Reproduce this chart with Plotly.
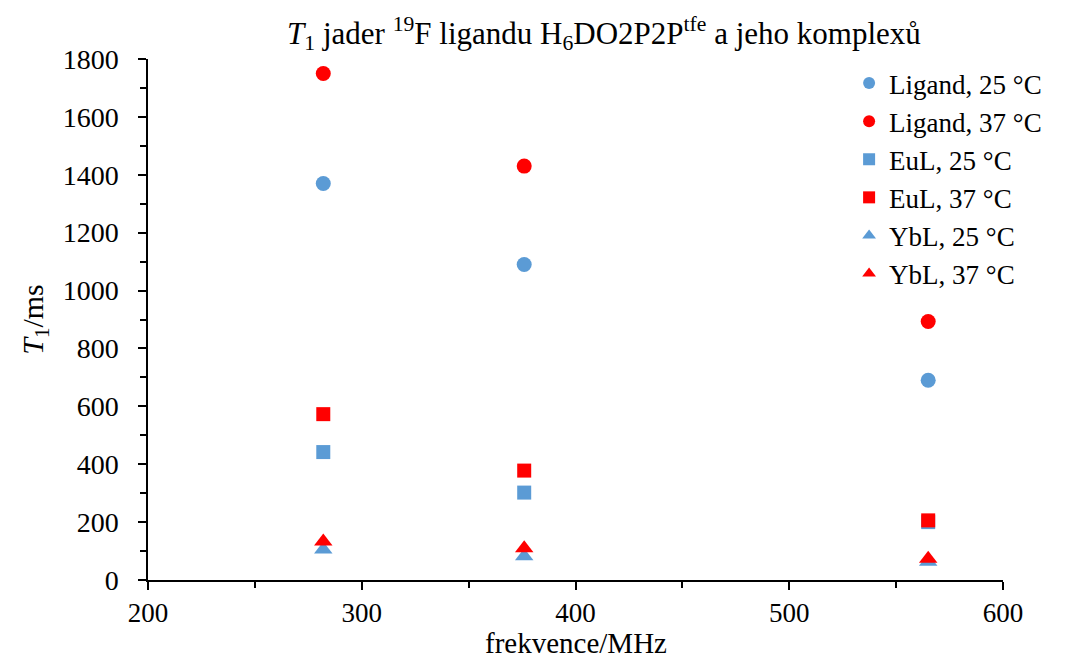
import plotly.graph_objects as go

freq = [282, 376, 565]
ligand_25 = [1370, 1090, 690]
ligand_37 = [1750, 1430, 893]
eul_25 = [442, 302, 200]
eul_37 = [573, 378, 206]
ybl_25 = [105, 82, 63]
ybl_37 = [133, 110, 73]

series = [
    ("Ligand, 25 °C", ligand_25, "circle", "#5B9BD5", 15),
    ("Ligand, 37 °C", ligand_37, "circle", "#FF0000", 15),
    ("EuL, 25 °C", eul_25, "square", "#5B9BD5", 14),
    ("EuL, 37 °C", eul_37, "square", "#FF0000", 14),
    ("YbL, 25 °C", ybl_25, "triangle-up", "#5B9BD5", 16),
    ("YbL, 37 °C", ybl_37, "triangle-up", "#FF0000", 16),
]

FONT = "Liberation Serif, Times New Roman, serif"

fig = go.Figure()
for name, vals, sym, col, sz in series:
    fig.add_trace(go.Scatter(
        x=freq, y=vals, mode="markers", name=name,
        marker=dict(symbol=sym, color=col, size=sz, line=dict(width=0)),
    ))

fig.add_annotation(
    text="frekvence/MHz", xref="paper", yref="paper",
    x=0.5, y=-0.121, xanchor="center", yanchor="middle",
    showarrow=False, font=dict(family=FONT, size=29, color="black"),
)

fig.update_layout(
    width=1070, height=660,
    margin=dict(l=140, r=75, t=51, b=88),
    paper_bgcolor="white", plot_bgcolor="white",
    font=dict(family=FONT, size=27, color="black"),
    title=dict(
        text="<i>T</i><sub>1</sub> jader <sup>19</sup>F ligandu H<sub>6</sub>DO2P2P<sup>tfe</sup> a jeho komplexů",
        x=0.557, xanchor="center", y=0.962, yanchor="middle",
        font=dict(family=FONT, size=31, color="black"),
    ),
    legend=dict(
        x=0.82, y=1.0, xanchor="left", yanchor="top",
        bgcolor="rgba(0,0,0,0)", font=dict(family=FONT, size=27),
        itemsizing="constant", tracegroupgap=0, itemwidth=30,
    ),
    xaxis=dict(
        range=[200, 600], dtick=100, tick0=200,
        showgrid=False, zeroline=False,
        showline=True, linecolor="black", linewidth=1.5,
        ticks="outside", ticklen=8, tickwidth=1.5, tickcolor="black",
        minor=dict(dtick=50, ticks="outside", ticklen=6, tickwidth=1.5, tickcolor="black"),
        ticklabelstandoff=0,
        tickfont=dict(family=FONT, size=27),
    ),
    yaxis=dict(
        range=[0, 1800], dtick=200,
        showgrid=False, zeroline=False,
        showline=True, linecolor="black", linewidth=1.5,
        ticks="outside", ticklen=8, tickwidth=1.5, tickcolor="black",
        minor=dict(dtick=100, ticks="outside", ticklen=6, tickwidth=1.5, tickcolor="black"),
        ticklabelstandoff=14,
        title=dict(text="<i>T</i><sub>1</sub>/ms", standoff=10, font=dict(family=FONT, size=30)),
        tickfont=dict(family=FONT, size=28),
    ),
)

fig.write_html("out.html")
